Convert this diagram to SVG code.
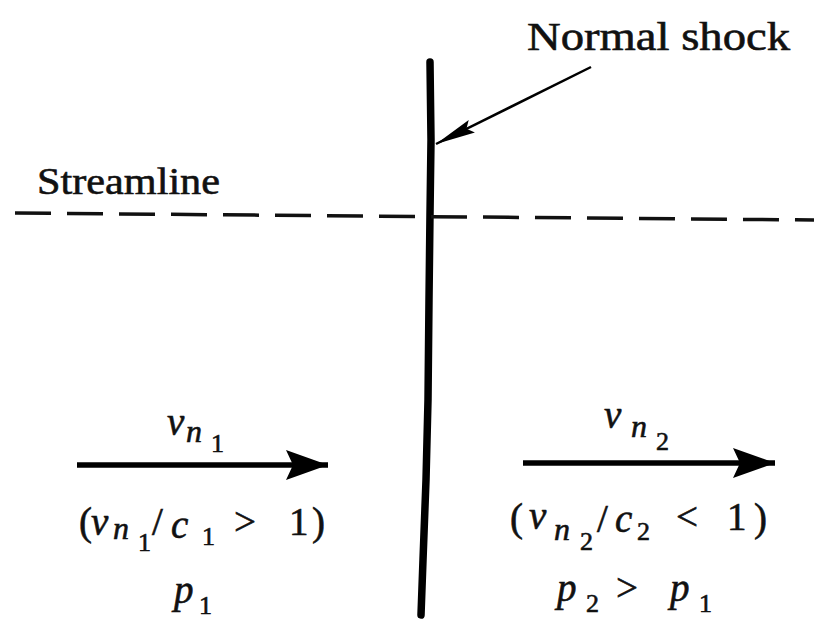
<svg xmlns="http://www.w3.org/2000/svg" width="814" height="621" viewBox="0 0 814 621">
<style>
.t{font-family:"Liberation Serif","Times New Roman",serif;fill:#111;stroke:#111;stroke-width:0.6}
.i{font-style:italic}
.m{font-size:39px}
.s{font-size:32px}
.ss{font-size:26px}
.shock{fill:none;stroke:#000;stroke-width:7.5;stroke-linecap:round;stroke-linejoin:round}
.dash{fill:none;stroke:#111;stroke-width:3.5;stroke-dasharray:36 16}
.flow{stroke:#000;stroke-width:5.5}
.lead{stroke:#000;stroke-width:2.5}
</style>
<defs>
<marker id="bighead" markerUnits="userSpaceOnUse" markerWidth="44" markerHeight="34" refX="42" refY="17" orient="auto">
<path d="M0,2 L42,17 L0,32 L7,17 Z" fill="#000"/>
</marker>
<marker id="lead" markerUnits="userSpaceOnUse" markerWidth="42" markerHeight="20" refX="40" refY="10" orient="auto">
<path d="M0,3 L40,10 L0,17 L6,10 Z" fill="#000"/>
</marker>
</defs>
<rect width="814" height="621" fill="#fff"/>
<g id="shock">
<polyline class="shock" points="430,62 431,140 430,214 429,300 428,400 426,480 423,560 421,615"/>
</g>
<g id="streamline">
<text class="t" x="37" y="194" font-size="38" stroke-width="0.3" textLength="183" lengthAdjust="spacingAndGlyphs">Streamline</text>
</g>
<g id="normal-shock-label">
<text class="t" x="527" y="50" font-size="40" stroke-width="0.3" textLength="263" lengthAdjust="spacingAndGlyphs">Normal shock</text>
</g>
<g id="upstream">
<text class="t"><tspan class="i m" x="167" y="435">v</tspan><tspan class="i s" x="186" y="442">n</tspan><tspan class="ss" x="211" y="452">1</tspan></text>
<text class="t"><tspan class="m" x="79" y="535">(</tspan><tspan class="i m" x="91" y="535">v</tspan><tspan class="i s" x="113" y="539">n</tspan><tspan class="ss" x="138" y="551">1</tspan><tspan class="m" x="152" y="535">/</tspan><tspan class="i m" x="171" y="538">c</tspan><tspan class="ss" x="202" y="545">1</tspan><tspan class="m" x="234" y="535">&gt;</tspan><tspan class="m" x="289" y="535">1</tspan><tspan class="m" x="312" y="535">)</tspan></text>
<text class="t"><tspan class="i m" x="174" y="603">p</tspan><tspan class="ss" x="199" y="614">1</tspan></text>
</g>
<g id="downstream">
<text class="t"><tspan class="i m" x="604" y="428">v</tspan><tspan class="i s" x="631" y="437">n</tspan><tspan class="ss" x="656" y="450">2</tspan></text>
<text class="t"><tspan class="m" x="510" y="531">(</tspan><tspan class="i m" x="529" y="529">v</tspan><tspan class="i s" x="554" y="540">n</tspan><tspan class="ss" x="580" y="550">2</tspan><tspan class="m" x="597" y="532">/</tspan><tspan class="i m" x="615" y="532">c</tspan><tspan class="ss" x="637" y="540">2</tspan><tspan class="m" x="676" y="530">&lt;</tspan><tspan class="m" x="727" y="530">1</tspan><tspan class="m" x="754" y="531">)</tspan></text>
<text class="t"><tspan class="i m" x="557" y="601">p</tspan><tspan class="ss" x="586" y="612">2</tspan><tspan class="m" x="616" y="601">&gt;</tspan><tspan class="i m" x="670" y="601">p</tspan><tspan class="ss" x="699" y="612">1</tspan></text>
</g>
<g id="connectors">
<line class="dash" x1="15" y1="213" x2="814" y2="220"/>
<line class="flow" x1="77" y1="465" x2="328" y2="465" marker-end="url(#bighead)"/>
<line class="flow" x1="523" y1="463" x2="775" y2="463" marker-end="url(#bighead)"/>
<line class="lead" x1="591" y1="67" x2="436" y2="144" marker-end="url(#lead)"/>
</g>
</svg>
